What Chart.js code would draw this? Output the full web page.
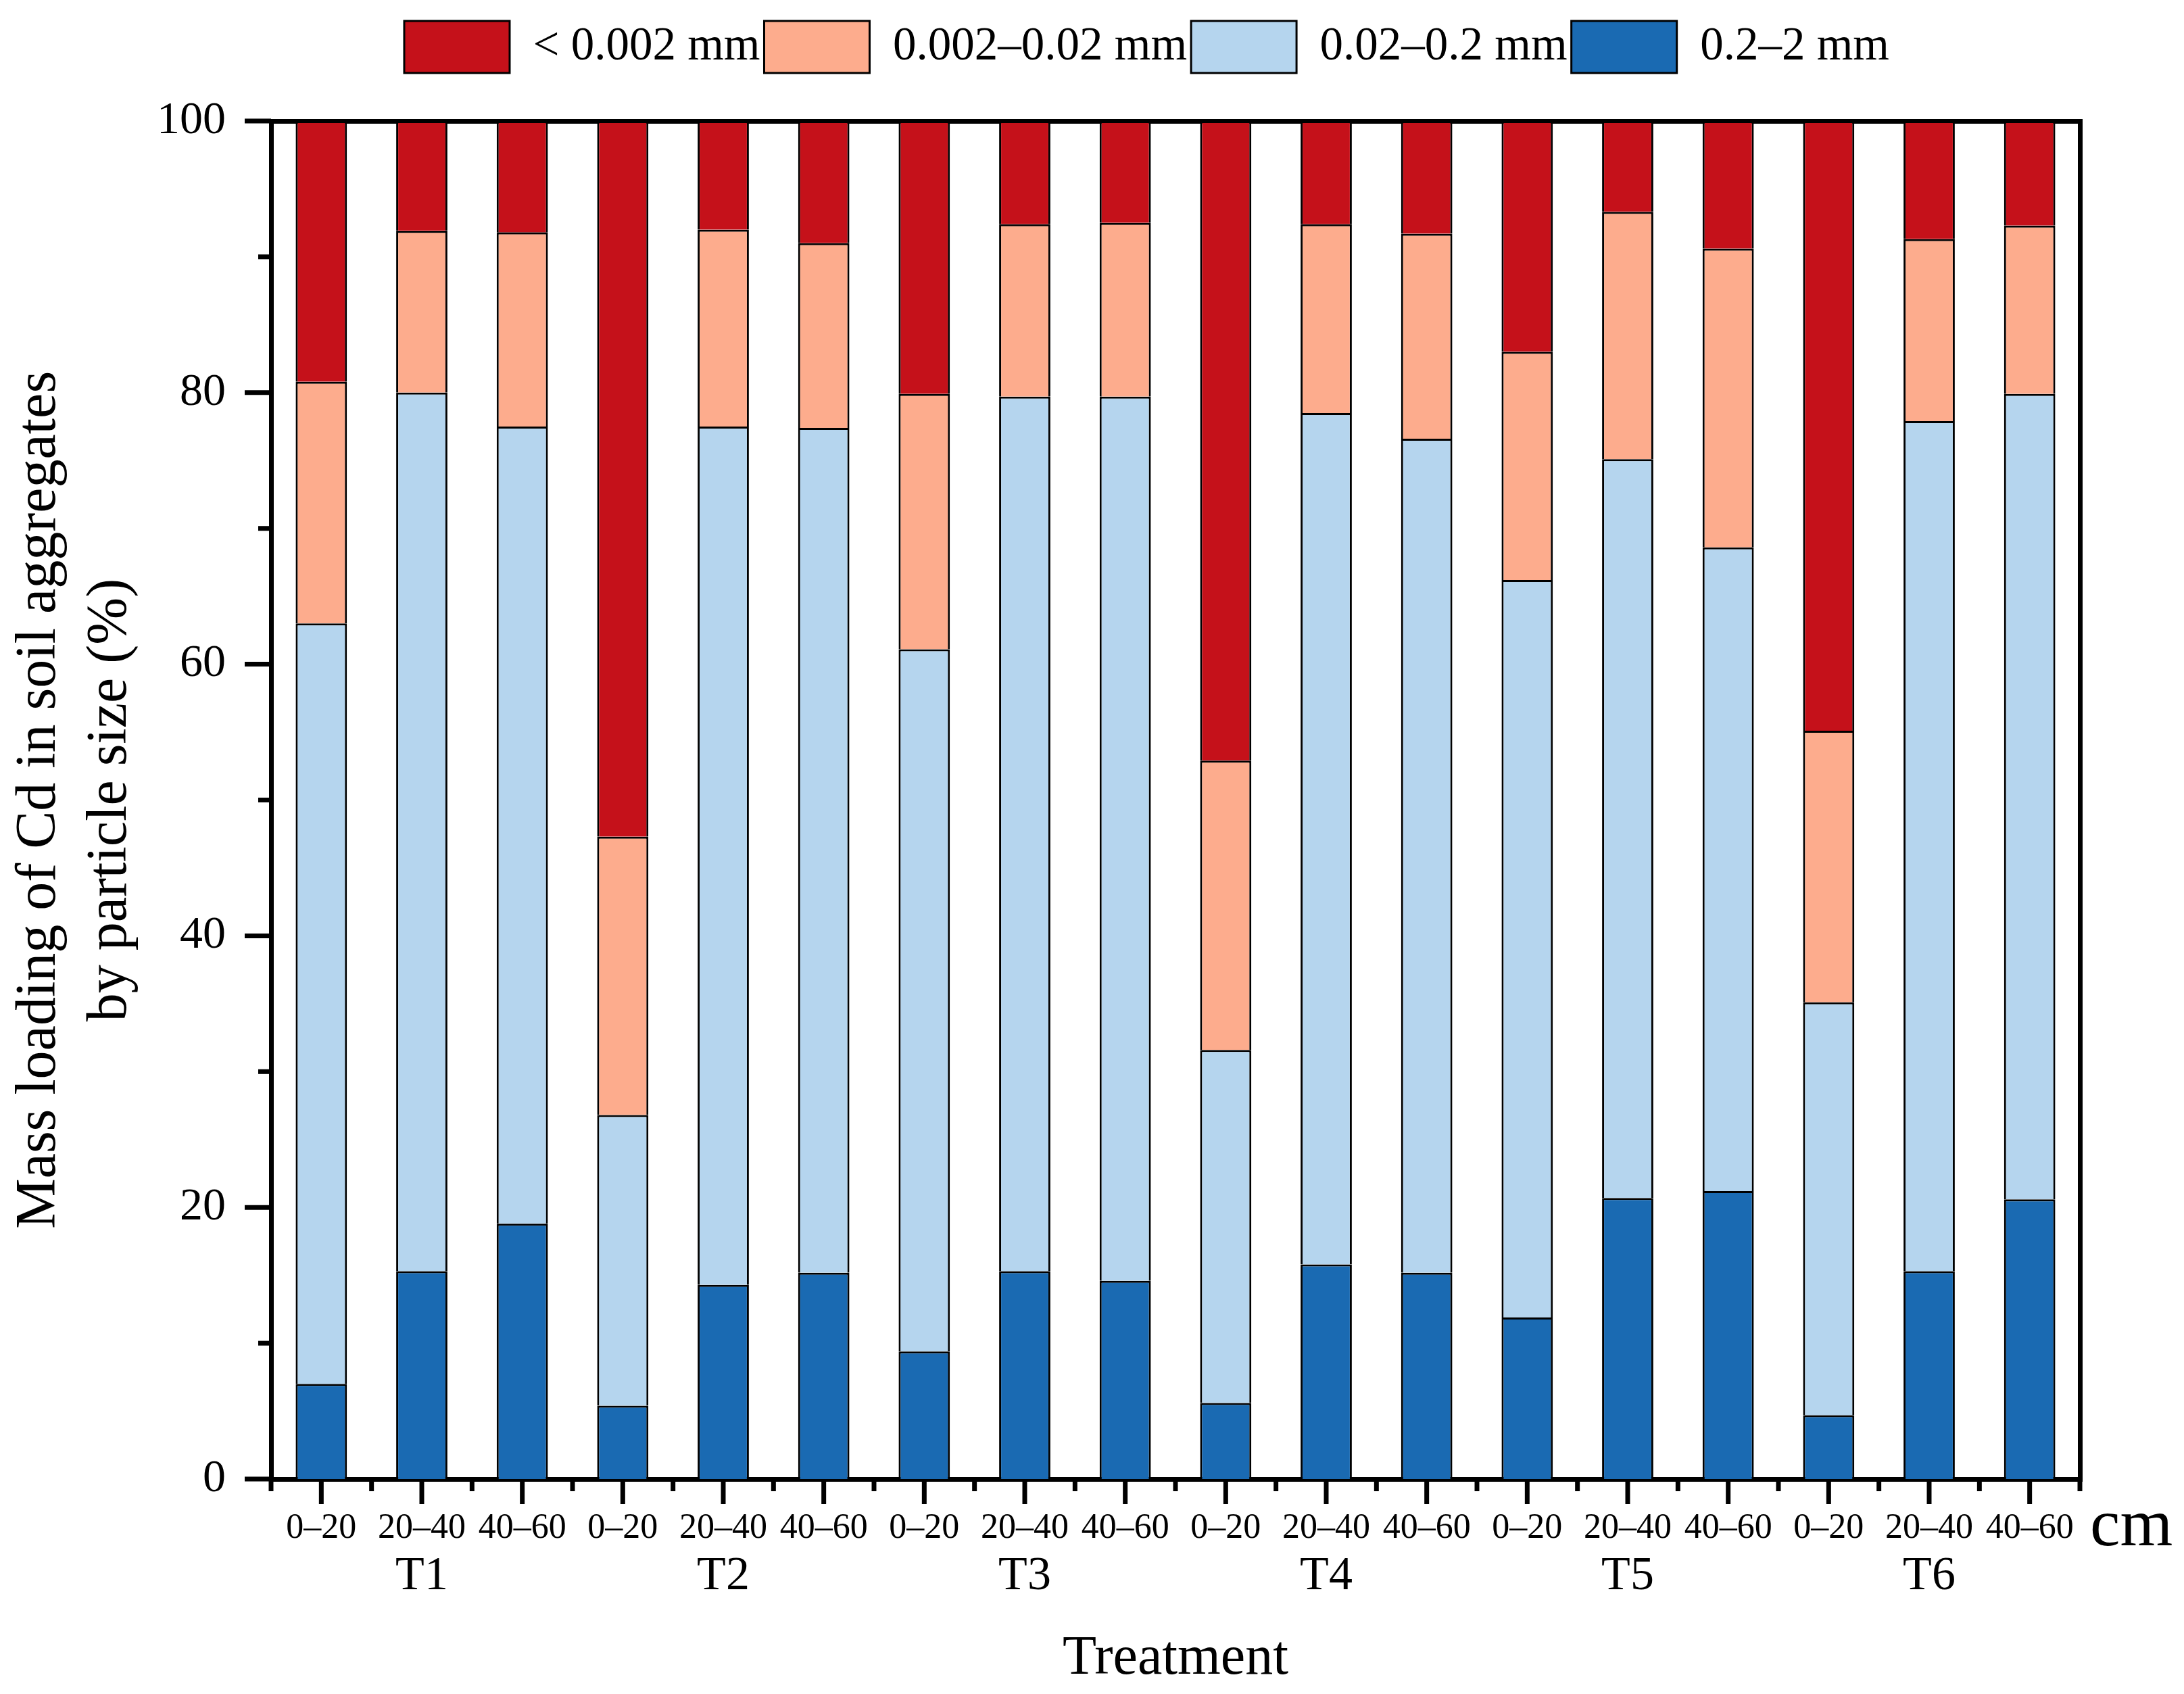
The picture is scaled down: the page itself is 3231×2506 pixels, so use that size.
<!DOCTYPE html>
<html>
<head>
<meta charset="utf-8">
<title>Mass loading of Cd in soil aggregates</title>
<script src="https://cdn.jsdelivr.net/npm/chart.js@4.4.1/dist/chart.umd.min.js"></script>
<style>
  html, body { margin: 0; padding: 0; background: #fff; }
</style>
</head>
<body>
<canvas id="chart" width="3231" height="2506"></canvas>
<script>

// =============================
// DATA
// =============================

const depths = ['0–20', '20–40', '40–60'];
const treatments = ['T1', 'T2', 'T3', 'T4', 'T5', 'T6'];
const categories = treatments.flatMap(() => depths);

// one value per bar, T1 0–20 ... T6 40–60 (%)
const coarse   = [7.0, 15.3, 18.8, 5.4, 14.3, 15.2, 9.4, 15.3, 14.6, 5.6, 15.8, 15.2, 11.9, 20.7, 21.2, 4.7, 15.3, 20.6];   // 0.2–2 mm
const fineSand = [56.0, 64.7, 58.7, 21.4, 63.2, 62.2, 51.7, 64.4, 65.1, 26.0, 62.7, 61.4, 54.3, 54.4, 47.4, 30.4, 62.6, 59.3]; // 0.02–0.2 mm
const silt     = [17.8, 11.9, 14.3, 20.5, 14.5, 13.6, 18.8, 12.7, 12.8, 21.3, 13.9, 15.1, 16.8, 18.2, 22.0, 20.0, 13.4, 12.4]; // 0.002–0.02 mm
const clay     = [19.2, 8.1, 8.2, 52.7, 8.0, 9.0, 20.1, 7.6, 7.5, 47.1, 7.6, 8.3, 17.0, 6.7, 9.4, 44.9, 8.7, 7.7];          // < 0.002 mm

const yTicks = [0, 20, 40, 60, 80, 100];


// =============================
// STYLE
// =============================

const FONT = '"Liberation Serif", "Times New Roman", serif';

Chart.defaults.font.family = FONT;
Chart.defaults.color = '#000';


// =============================
// EXTRA DRAWING (ticks, groups, unit)
// =============================

const decorations = {

  id: 'decorations',

  beforeDraw(chart) {
    // move the legend row a bit right, as in the original figure
    const lg = chart.legend;
    const w = lg.width;
    lg.left = 81;
    lg.right = 81 + w;
  },

  afterDraw(chart) {

    const ctx = chart.ctx;
    const area = chart.chartArea;
    const xs = chart.scales.x;
    const ys = chart.scales.y;

    const line = (x1, y1, x2, y2) => {
      ctx.beginPath();
      ctx.moveTo(x1, y1);
      ctx.lineTo(x2, y2);
      ctx.stroke();
    };

    ctx.save();
    ctx.strokeStyle = '#000';
    ctx.lineWidth = 7;
    ctx.lineCap = 'butt';

    // y ticks, major and minor, pointing out
    yTicks.forEach(v => {
      const py = ys.getPixelForValue(v);
      line(area.left, py, area.left - 39, py);
    });

    for (let i = 0; i < yTicks.length - 1; i++) {
      const py = ys.getPixelForValue((yTicks[i] + yTicks[i + 1]) / 2);
      line(area.left, py, area.left - 19, py);
    }

    // x ticks: long at every bar, short between bars
    categories.forEach((c, i) => {
      const px = xs.getPixelForValue(i);
      line(px, area.bottom, px, area.bottom + 37);
    });

    for (let i = 0; i <= categories.length; i++) {
      let px;
      if (i === 0) px = area.left;
      else if (i === categories.length) px = area.right;
      else px = (xs.getPixelForValue(i - 1) + xs.getPixelForValue(i)) / 2;
      line(px, area.bottom, px, area.bottom + 18);
    }

    // treatment names under the middle bar of each group
    ctx.fillStyle = '#000';
    ctx.font = '70px ' + FONT;
    ctx.textAlign = 'center';
    ctx.textBaseline = 'middle';

    treatments.forEach((t, g) => {
      const px = xs.getPixelForValue(g * depths.length + 1);
      ctx.fillText(t, px, area.bottom + 145);
    });

    // depth unit
    ctx.font = '100px ' + FONT;
    ctx.textAlign = 'left';
    ctx.textBaseline = 'alphabetic';
    ctx.fillText('cm', area.right + 15, area.bottom + 98);

    ctx.restore();
  }

};


// =============================
// BAR CHART
// =============================

const ctx = document.getElementById('chart');

const barStyle = {
  borderColor: '#000',
  borderWidth: 3,
  categoryPercentage: 1,
  barPercentage: 0.51
};

new Chart(ctx, {

  type: 'bar',

  data: {
    labels: categories,

    datasets: [
      { label: '0.2–2 mm', data: coarse, backgroundColor: '#1A6AB2', ...barStyle },
      { label: '0.02–0.2 mm', data: fineSand, backgroundColor: '#B5D5EE', ...barStyle },
      { label: '0.002–0.02 mm', data: silt, backgroundColor: '#FDAC8D', ...barStyle },
      { label: '< 0.002 mm', data: clay, backgroundColor: '#C5111A', ...barStyle }
    ]
  },

  options: {
    responsive: false,
    animation: false,
    devicePixelRatio: 1,

    layout: {
      padding: { top: 25, left: 0, right: 0, bottom: 0 }
    },

    plugins: {
      legend: {
        position: 'top',
        reverse: true,
        labels: {
          boxWidth: 156,
          boxHeight: 77,
          padding: 6,
          color: '#000',
          font: { size: 69 }
        }
      },
      tooltip: { enabled: false }
    },

    scales: {
      x: {
        stacked: true,
        offset: true,
        grid: { display: false, drawTicks: false, lineWidth: 7 },
        border: { display: true, width: 7, color: '#000' },
        ticks: {
          color: '#000',
          font: { size: 52 },
          padding: 42,
          maxRotation: 0,
          autoSkip: false
        },
        title: {
          display: true,
          text: 'Treatment',
          color: '#000',
          font: { size: 82 },
          padding: { top: 0, bottom: 2 }
        },
        afterFit: scale => { scale.height = 318; }
      },

      y: {
        stacked: true,
        min: 0,
        max: 100,
        afterBuildTicks: scale => {
          scale.ticks = yTicks.map(v => ({ value: v }));
        },
        grid: { display: false, drawTicks: false, lineWidth: 7 },
        border: { display: true, width: 7, color: '#000' },
        ticks: {
          color: '#000',
          font: { size: 68 },
          padding: 67
        },
        title: {
          display: true,
          text: ['Mass loading of Cd in soil aggregates', 'by particle size (%)'],
          color: '#000',
          font: { size: 84, lineHeight: 1.25 },
          padding: { top: 6, bottom: 0 }
        },
        afterFit: scale => { scale.width = 401; }
      },

      xTop: {
        type: 'category',
        position: 'top',
        labels: categories,
        display: true,
        grid: { display: false, drawTicks: false, lineWidth: 7 },
        border: { display: true, width: 7, color: '#000' },
        ticks: { display: false },
        afterFit: scale => { scale.height = 61; }
      },

      yRight: {
        type: 'linear',
        position: 'right',
        display: true,
        min: 0,
        max: 100,
        grid: { display: false, drawTicks: false, lineWidth: 7 },
        border: { display: true, width: 7, color: '#000' },
        ticks: { display: false },
        afterFit: scale => { scale.width = 154; }
      }
    }
  },

  plugins: [decorations]

});

</script>
</body>
</html>
